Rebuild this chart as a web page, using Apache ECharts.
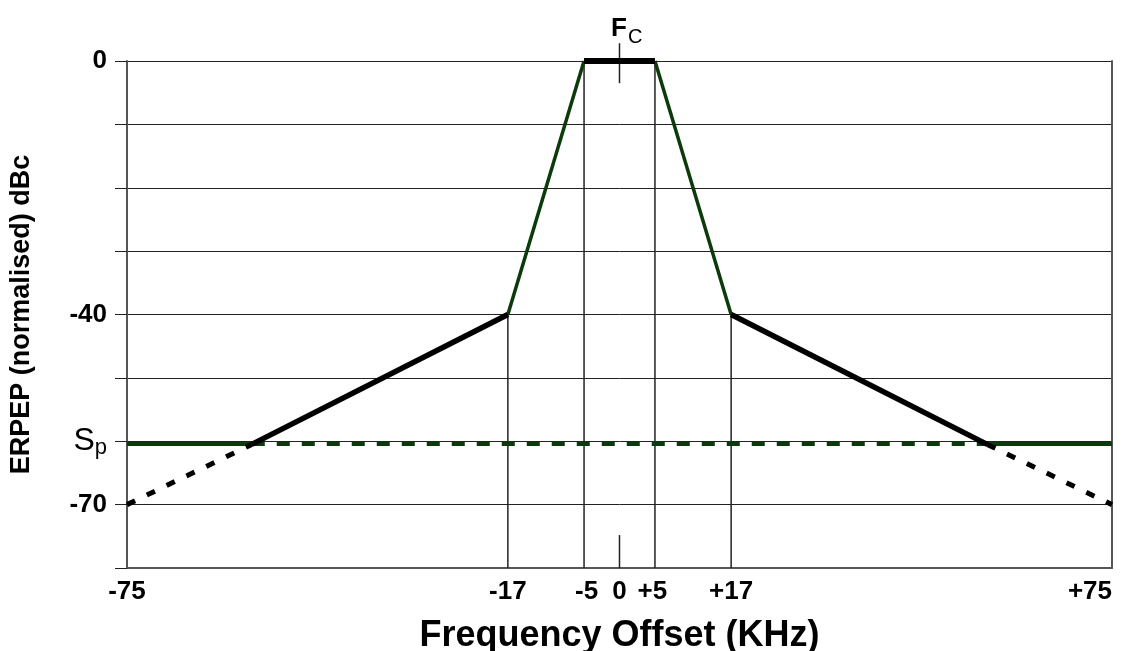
<!DOCTYPE html>
<html>
<head>
<meta charset="utf-8">
<script src="https://cdn.jsdelivr.net/npm/echarts@6/dist/echarts.min.js"></script>
<style>
html,body{margin:0;padding:0;background:#fff;}
#chart{width:1125px;height:651px;}
</style>
</head>
<body>
<div id="chart"></div>
<script>
// ---- data ----
const xTickValues = [-75, -17, -5, 0, 5, 17, 75];
const xTickLabels = ['-75', '-17', '-5', '0', '+5', '+17', '+75'];
const yTickValues = [0, -40, -60, -70];
const yTickLabels = ['0', '-40', '{S|S}{p|p}', '-70'];

// black mask (solid and dashed parts)
const maskSolidLeft  = [[-56, -60.5], [-17, -40]];
const maskTop        = [[-5.4, 0], [5.4, 0]];
const maskSolidRight = [[17, -40], [56, -60.5]];
const maskDashLeft   = [[-75, -70], [-56, -60.5]];
const maskDashRight  = [[56, -60.5], [75, -70]];
// green skirts
const greenLeft  = [[-17, -40], [-5.4, 0]];
const greenRight = [[5.4, 0], [17, -40]];
// Sp level line
const spSolidLeft  = [[-75, -60.4], [-56, -60.4]];
const spDashed     = [[-56, -60.4], [56, -60.4]];
const spSolidRight = [[56, -60.4], [75, -60.4]];
// thin reference verticals
const vLines = [
  [[-17, -40], [-17, -80]],
  [[-5.4, 0], [-5.4, -80]],
  [[5.4, 0], [5.4, -80]],
  [[17, -40], [17, -80]],
  [[0, 2.8], [0, -3.5]],
  [[0, -74.8], [0, -80]]
];

const xLabelMap = {};
xTickValues.forEach((v, i) => xLabelMap[v] = xTickLabels[i]);
const yLabelMap = {};
yTickValues.forEach((v, i) => yLabelMap[v] = yTickLabels[i]);

const GREEN = '#0b3a0b';
const FONT = '"Liberation Sans", Arial, sans-serif';

function seg(data, color, width, type, z) {
  return {
    type: 'line', data: data, showSymbol: false, symbol: 'none',
    silent: true, animation: false, clip: false, z: z,
    lineStyle: { color: color, width: width, type: type, cap: 'butt' }
  };
}

const series = [];
vLines.forEach(d => series.push(seg(d, '#222', 1.5, 'solid', 2)));
series.push(seg(spSolidLeft, GREEN, 4.5, 'solid', 3));
series.push(seg(spSolidRight, GREEN, 4.5, 'solid', 3));
series.push(seg(spDashed, GREEN, 4.5, [13, 12], 3));
series.push(seg(greenLeft, GREEN, 3.5, 'solid', 4));
series.push(seg(greenRight, GREEN, 3.5, 'solid', 4));
series.push(seg(maskSolidLeft, '#000', 5.5, 'solid', 5));
series.push(seg(maskSolidRight, '#000', 5.5, 'solid', 5));
series.push(seg(maskTop, '#000', 6, 'solid', 5));
series.push(seg(maskDashLeft, '#000', 5, [9, 13], 5));
series.push(seg(maskDashRight, '#000', 5, [9, 13], 5));

const chart = echarts.init(document.getElementById('chart'), null, { renderer: 'canvas' });
chart.setOption({
  backgroundColor: '#fff',
  animation: false,
  textStyle: { fontFamily: FONT },
  title: {
    text: '{F|F}{C|C}',
    left: 606, top: 6,
    textStyle: {
      rich: {
        F: { fontFamily: FONT, fontSize: 26, fontWeight: 'bold', color: '#000' },
        C: { fontFamily: FONT, fontSize: 20, fontWeight: 'normal', color: '#000', padding: [16, 0, 0, 1] }
      }
    }
  },
  grid: { left: 127, right: 13, top: 61, bottom: 83, containLabel: false, outerBoundsMode: 'none' },
  xAxis: {
    type: 'value', min: -75, max: 75, interval: 1,
    axisLine: { show: true, onZero: false, lineStyle: { color: '#555', width: 2 } },
    axisTick: { show: false },
    splitLine: { show: false },
    axisLabel: {
      show: true, margin: 11, fontFamily: FONT, fontSize: 26, fontWeight: 'bold', color: '#000',
      formatter: v => (xLabelMap[v] !== undefined ? xLabelMap[v] : ''),
      alignMaxLabel: 'right'
    },
    name: 'Frequency Offset (KHz)',
    nameLocation: 'middle', nameGap: 50,
    nameTextStyle: { fontFamily: FONT, fontSize: 36, fontWeight: 'bold', color: '#000' }
  },
  yAxis: [{
    type: 'value', min: -80, max: 0, interval: 10,
    axisLine: { show: true, onZero: false, lineStyle: { color: '#555', width: 2 } },
    axisTick: { show: true, length: 12, lineStyle: { color: '#222', width: 1 } },
    splitLine: { show: true, lineStyle: { color: '#222', width: 1 } },
    axisLabel: {
      margin: 20, fontFamily: FONT, fontSize: 26, fontWeight: 'bold', color: '#000',
      formatter: v => (yLabelMap[v] !== undefined ? yLabelMap[v] : ''),
      rich: {
        S: { fontFamily: FONT, fontSize: 32, fontWeight: 'normal', color: '#000' },
        p: { fontFamily: FONT, fontSize: 22, fontWeight: 'normal', color: '#000', padding: [14, 0, 0, 0] }
      }
    },
    name: 'ERPEP (normalised) dBc',
    nameLocation: 'middle', nameGap: 92,
    nameTextStyle: { fontFamily: FONT, fontSize: 27, fontWeight: 'bold', color: '#000' }
  }, {
    type: 'value', min: -80, max: 0, interval: 10, position: 'right',
    axisLine: { show: true, onZero: false, lineStyle: { color: '#555', width: 2 } },
    axisTick: { show: false }, axisLabel: { show: false }, splitLine: { show: false }
  }],
  series: series
});
</script>
</body>
</html>
